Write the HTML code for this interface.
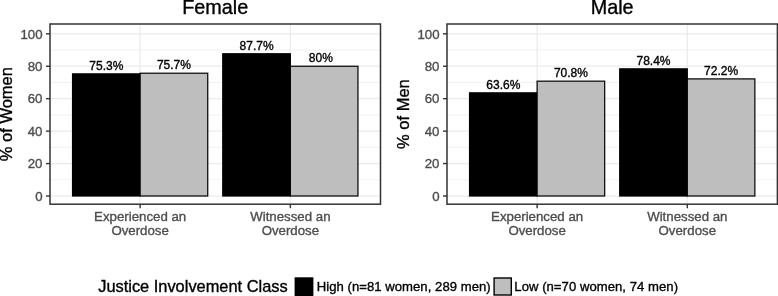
<!DOCTYPE html>
<html><head><meta charset="utf-8"><style>
html,body{margin:0;padding:0;background:#fff;width:778px;height:296px;overflow:hidden;}
svg{display:block;font-family:"Liberation Sans",sans-serif;will-change:transform;}
</style></head><body>
<svg width="778" height="296" viewBox="0 0 778 296">
<rect x="0" y="0" width="778" height="296" fill="#fff"/>
<line x1="50.00" x2="380.50" y1="179.78" y2="179.78" stroke="#EBEBEB" stroke-width="0.7"/>
<line x1="50.00" x2="380.50" y1="147.34" y2="147.34" stroke="#EBEBEB" stroke-width="0.7"/>
<line x1="50.00" x2="380.50" y1="114.90" y2="114.90" stroke="#EBEBEB" stroke-width="0.7"/>
<line x1="50.00" x2="380.50" y1="82.46" y2="82.46" stroke="#EBEBEB" stroke-width="0.7"/>
<line x1="50.00" x2="380.50" y1="50.02" y2="50.02" stroke="#EBEBEB" stroke-width="0.7"/>
<line x1="50.00" x2="380.50" y1="196.00" y2="196.00" stroke="#EBEBEB" stroke-width="1.25"/>
<line x1="50.00" x2="380.50" y1="163.56" y2="163.56" stroke="#EBEBEB" stroke-width="1.25"/>
<line x1="50.00" x2="380.50" y1="131.12" y2="131.12" stroke="#EBEBEB" stroke-width="1.25"/>
<line x1="50.00" x2="380.50" y1="98.68" y2="98.68" stroke="#EBEBEB" stroke-width="1.25"/>
<line x1="50.00" x2="380.50" y1="66.24" y2="66.24" stroke="#EBEBEB" stroke-width="1.25"/>
<line x1="50.00" x2="380.50" y1="33.80" y2="33.80" stroke="#EBEBEB" stroke-width="1.25"/>
<line x1="140.14" x2="140.14" y1="24.00" y2="204.20" stroke="#EBEBEB" stroke-width="1.25"/>
<line x1="290.36" x2="290.36" y1="24.00" y2="204.20" stroke="#EBEBEB" stroke-width="1.25"/>
<rect x="72.53" y="73.86" width="67.60" height="122.14" fill="#000000" stroke="#000" stroke-width="1.2"/>
<text x="106.34" y="69.66" font-size="12.0" text-anchor="middle" fill="#000" stroke="#000" stroke-width="0.35">75.3%</text>
<rect x="140.14" y="73.21" width="67.60" height="122.79" fill="#BEBEBE" stroke="#000" stroke-width="1.2"/>
<text x="173.94" y="69.01" font-size="12.0" text-anchor="middle" fill="#000" stroke="#000" stroke-width="0.35">75.7%</text>
<rect x="222.76" y="53.75" width="67.60" height="142.25" fill="#000000" stroke="#000" stroke-width="1.2"/>
<text x="256.56" y="49.55" font-size="12.0" text-anchor="middle" fill="#000" stroke="#000" stroke-width="0.35">87.7%</text>
<rect x="290.36" y="66.24" width="67.60" height="129.76" fill="#BEBEBE" stroke="#000" stroke-width="1.2"/>
<text x="320.83" y="62.04" font-size="12.0" text-anchor="middle" fill="#000" stroke="#000" stroke-width="0.35">80%</text>
<rect x="50.00" y="24.00" width="330.50" height="180.20" fill="none" stroke="#333333" stroke-width="1.5"/>
<line x1="46.00" x2="50.00" y1="196.00" y2="196.00" stroke="#333333" stroke-width="1.4"/>
<text x="42.50" y="200.70" font-size="13.25" text-anchor="end" fill="#4D4D4D" stroke="#4D4D4D" stroke-width="0.35">0</text>
<line x1="46.00" x2="50.00" y1="163.56" y2="163.56" stroke="#333333" stroke-width="1.4"/>
<text x="42.50" y="168.26" font-size="13.25" text-anchor="end" fill="#4D4D4D" stroke="#4D4D4D" stroke-width="0.35">20</text>
<line x1="46.00" x2="50.00" y1="131.12" y2="131.12" stroke="#333333" stroke-width="1.4"/>
<text x="42.50" y="135.82" font-size="13.25" text-anchor="end" fill="#4D4D4D" stroke="#4D4D4D" stroke-width="0.35">40</text>
<line x1="46.00" x2="50.00" y1="98.68" y2="98.68" stroke="#333333" stroke-width="1.4"/>
<text x="42.50" y="103.38" font-size="13.25" text-anchor="end" fill="#4D4D4D" stroke="#4D4D4D" stroke-width="0.35">60</text>
<line x1="46.00" x2="50.00" y1="66.24" y2="66.24" stroke="#333333" stroke-width="1.4"/>
<text x="42.50" y="70.94" font-size="13.25" text-anchor="end" fill="#4D4D4D" stroke="#4D4D4D" stroke-width="0.35">80</text>
<line x1="46.00" x2="50.00" y1="33.80" y2="33.80" stroke="#333333" stroke-width="1.4"/>
<text x="42.50" y="38.50" font-size="13.25" text-anchor="end" fill="#4D4D4D" stroke="#4D4D4D" stroke-width="0.35">100</text>
<line x1="140.14" x2="140.14" y1="204.20" y2="208.20" stroke="#333333" stroke-width="1.4"/>
<text x="140.14" y="221.2" font-size="13.25" text-anchor="middle" fill="#4D4D4D" stroke="#4D4D4D" stroke-width="0.35">Experienced an</text>
<text x="140.14" y="235.4" font-size="13.25" text-anchor="middle" fill="#4D4D4D" stroke="#4D4D4D" stroke-width="0.35">Overdose</text>
<line x1="290.36" x2="290.36" y1="204.20" y2="208.20" stroke="#333333" stroke-width="1.4"/>
<text x="290.36" y="221.2" font-size="13.25" text-anchor="middle" fill="#4D4D4D" stroke="#4D4D4D" stroke-width="0.35">Witnessed an</text>
<text x="290.36" y="235.4" font-size="13.25" text-anchor="middle" fill="#4D4D4D" stroke="#4D4D4D" stroke-width="0.35">Overdose</text>
<text x="215.25" y="14.2" font-size="19.8" text-anchor="middle" fill="#000" stroke="#000" stroke-width="0.35">Female</text>
<text transform="translate(11.80,114.10) rotate(-90)" x="0" y="0" font-size="16.5" text-anchor="middle" fill="#000" stroke="#000" stroke-width="0.35">% of Women</text>
<line x1="447.00" x2="777.40" y1="179.78" y2="179.78" stroke="#EBEBEB" stroke-width="0.7"/>
<line x1="447.00" x2="777.40" y1="147.34" y2="147.34" stroke="#EBEBEB" stroke-width="0.7"/>
<line x1="447.00" x2="777.40" y1="114.90" y2="114.90" stroke="#EBEBEB" stroke-width="0.7"/>
<line x1="447.00" x2="777.40" y1="82.46" y2="82.46" stroke="#EBEBEB" stroke-width="0.7"/>
<line x1="447.00" x2="777.40" y1="50.02" y2="50.02" stroke="#EBEBEB" stroke-width="0.7"/>
<line x1="447.00" x2="777.40" y1="196.00" y2="196.00" stroke="#EBEBEB" stroke-width="1.25"/>
<line x1="447.00" x2="777.40" y1="163.56" y2="163.56" stroke="#EBEBEB" stroke-width="1.25"/>
<line x1="447.00" x2="777.40" y1="131.12" y2="131.12" stroke="#EBEBEB" stroke-width="1.25"/>
<line x1="447.00" x2="777.40" y1="98.68" y2="98.68" stroke="#EBEBEB" stroke-width="1.25"/>
<line x1="447.00" x2="777.40" y1="66.24" y2="66.24" stroke="#EBEBEB" stroke-width="1.25"/>
<line x1="447.00" x2="777.40" y1="33.80" y2="33.80" stroke="#EBEBEB" stroke-width="1.25"/>
<line x1="537.11" x2="537.11" y1="24.00" y2="204.20" stroke="#EBEBEB" stroke-width="1.25"/>
<line x1="687.29" x2="687.29" y1="24.00" y2="204.20" stroke="#EBEBEB" stroke-width="1.25"/>
<rect x="469.53" y="92.84" width="67.58" height="103.16" fill="#000000" stroke="#000" stroke-width="1.2"/>
<text x="503.32" y="88.64" font-size="12.0" text-anchor="middle" fill="#000" stroke="#000" stroke-width="0.35">63.6%</text>
<rect x="537.11" y="81.16" width="67.58" height="114.84" fill="#BEBEBE" stroke="#000" stroke-width="1.2"/>
<text x="570.90" y="76.96" font-size="12.0" text-anchor="middle" fill="#000" stroke="#000" stroke-width="0.35">70.8%</text>
<rect x="619.71" y="68.84" width="67.58" height="127.16" fill="#000000" stroke="#000" stroke-width="1.2"/>
<text x="653.50" y="64.64" font-size="12.0" text-anchor="middle" fill="#000" stroke="#000" stroke-width="0.35">78.4%</text>
<rect x="687.29" y="78.89" width="67.58" height="117.11" fill="#BEBEBE" stroke="#000" stroke-width="1.2"/>
<text x="721.08" y="74.69" font-size="12.0" text-anchor="middle" fill="#000" stroke="#000" stroke-width="0.35">72.2%</text>
<rect x="447.00" y="24.00" width="330.40" height="180.20" fill="none" stroke="#333333" stroke-width="1.5"/>
<line x1="443.00" x2="447.00" y1="196.00" y2="196.00" stroke="#333333" stroke-width="1.4"/>
<text x="439.50" y="200.70" font-size="13.25" text-anchor="end" fill="#4D4D4D" stroke="#4D4D4D" stroke-width="0.35">0</text>
<line x1="443.00" x2="447.00" y1="163.56" y2="163.56" stroke="#333333" stroke-width="1.4"/>
<text x="439.50" y="168.26" font-size="13.25" text-anchor="end" fill="#4D4D4D" stroke="#4D4D4D" stroke-width="0.35">20</text>
<line x1="443.00" x2="447.00" y1="131.12" y2="131.12" stroke="#333333" stroke-width="1.4"/>
<text x="439.50" y="135.82" font-size="13.25" text-anchor="end" fill="#4D4D4D" stroke="#4D4D4D" stroke-width="0.35">40</text>
<line x1="443.00" x2="447.00" y1="98.68" y2="98.68" stroke="#333333" stroke-width="1.4"/>
<text x="439.50" y="103.38" font-size="13.25" text-anchor="end" fill="#4D4D4D" stroke="#4D4D4D" stroke-width="0.35">60</text>
<line x1="443.00" x2="447.00" y1="66.24" y2="66.24" stroke="#333333" stroke-width="1.4"/>
<text x="439.50" y="70.94" font-size="13.25" text-anchor="end" fill="#4D4D4D" stroke="#4D4D4D" stroke-width="0.35">80</text>
<line x1="443.00" x2="447.00" y1="33.80" y2="33.80" stroke="#333333" stroke-width="1.4"/>
<text x="439.50" y="38.50" font-size="13.25" text-anchor="end" fill="#4D4D4D" stroke="#4D4D4D" stroke-width="0.35">100</text>
<line x1="537.11" x2="537.11" y1="204.20" y2="208.20" stroke="#333333" stroke-width="1.4"/>
<text x="537.11" y="221.2" font-size="13.25" text-anchor="middle" fill="#4D4D4D" stroke="#4D4D4D" stroke-width="0.35">Experienced an</text>
<text x="537.11" y="235.4" font-size="13.25" text-anchor="middle" fill="#4D4D4D" stroke="#4D4D4D" stroke-width="0.35">Overdose</text>
<line x1="687.29" x2="687.29" y1="204.20" y2="208.20" stroke="#333333" stroke-width="1.4"/>
<text x="687.29" y="221.2" font-size="13.25" text-anchor="middle" fill="#4D4D4D" stroke="#4D4D4D" stroke-width="0.35">Witnessed an</text>
<text x="687.29" y="235.4" font-size="13.25" text-anchor="middle" fill="#4D4D4D" stroke="#4D4D4D" stroke-width="0.35">Overdose</text>
<text x="612.20" y="14.2" font-size="19.8" text-anchor="middle" fill="#000" stroke="#000" stroke-width="0.35">Male</text>
<text transform="translate(408.80,114.10) rotate(-90)" x="0" y="0" font-size="16.5" text-anchor="middle" fill="#000" stroke="#000" stroke-width="0.35">% of Men</text>
<text x="98.2" y="292.4" font-size="16.4" fill="#000" stroke="#000" stroke-width="0.35">Justice Involvement Class</text>
<rect x="295.3" y="278.0" width="17.4" height="17.6" fill="#000" stroke="#000" stroke-width="1.4"/>
<text x="316.7" y="291.25" font-size="13.1" textLength="174.0" lengthAdjust="spacing" fill="#000" stroke="#000" stroke-width="0.35">High (n=81 women, 289 men)</text>
<rect x="494.1" y="278.0" width="17.2" height="17.0" fill="#BEBEBE" stroke="#000" stroke-width="1.4"/>
<text x="514.3" y="291.25" font-size="13.1" textLength="163.7" lengthAdjust="spacing" fill="#000" stroke="#000" stroke-width="0.35">Low (n=70 women, 74 men)</text>
</svg>
</body></html>
